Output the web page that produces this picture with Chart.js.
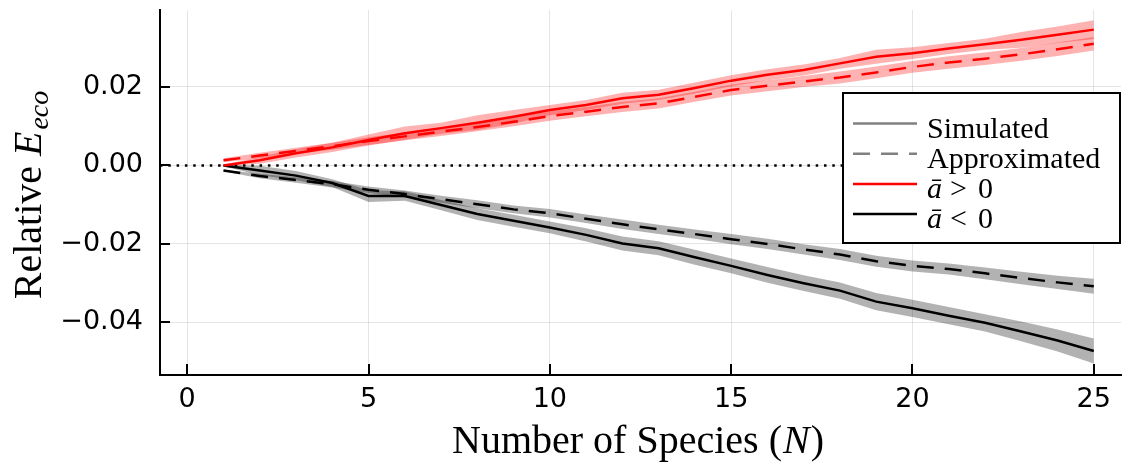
<!DOCTYPE html>
<html><head><meta charset="utf-8">
<script src="https://cdn.jsdelivr.net/npm/chart.js@4.4.1/dist/chart.umd.min.js"></script>
<style>html,body{margin:0;padding:0;background:#fff;}#wrap{width:1123px;height:471px;}</style>
</head><body><div id="wrap"><canvas id="c" width="1123" height="471"></canvas></div>
<script>
// ---- data ----
const speciesN = [1,2,3,4,5,6,7,8,9,10,11,12,13,14,15,16,17,18,19,20,21,22,23,24,25];
const posSimulated = [0.0000,0.0013,0.0031,0.0046,0.0065,0.0082,0.0095,0.0109,0.0124,0.0141,0.0154,0.0171,0.0180,0.0197,0.0216,0.0231,0.0243,0.0260,0.0277,0.0286,0.0298,0.0309,0.0320,0.0333,0.0346];
const posSimErr    = [0.0002,0.0009,0.0011,0.0012,0.0014,0.0017,0.0014,0.0019,0.0017,0.0013,0.0013,0.0014,0.0013,0.0014,0.0014,0.0014,0.0014,0.0014,0.0018,0.0015,0.0014,0.0014,0.0020,0.0021,0.0024];
const posApprox    = [0.0013,0.0025,0.0037,0.0049,0.0062,0.0074,0.0086,0.0098,0.0111,0.0126,0.0137,0.0149,0.0158,0.0175,0.0192,0.0203,0.0214,0.0224,0.0237,0.0251,0.0262,0.0272,0.0283,0.0296,0.0310];
const posApproxErr = [0.0005,0.0007,0.0008,0.0009,0.0010,0.0010,0.0011,0.0011,0.0011,0.0012,0.0012,0.0013,0.0013,0.0013,0.0014,0.0014,0.0014,0.0015,0.0015,0.0015,0.0016,0.0016,0.0016,0.0017,0.0017];
const negSimulated = [0.0000,-0.0013,-0.0026,-0.0045,-0.0078,-0.0078,-0.0101,-0.0124,-0.0141,-0.0158,-0.0177,-0.0199,-0.0211,-0.0234,-0.0256,-0.0279,-0.0300,-0.0319,-0.0347,-0.0364,-0.0383,-0.0401,-0.0423,-0.0446,-0.0473];
const negSimErr    = [0.0002,0.0012,0.0012,0.0010,0.0015,0.0012,0.0013,0.0015,0.0015,0.0015,0.0017,0.0018,0.0018,0.0019,0.0019,0.0020,0.0020,0.0021,0.0022,0.0022,0.0022,0.0022,0.0025,0.0028,0.0032];
const negApprox    = [-0.0013,-0.0027,-0.0037,-0.0048,-0.0062,-0.0073,-0.0086,-0.0099,-0.0112,-0.0122,-0.0136,-0.0150,-0.0163,-0.0175,-0.0188,-0.0200,-0.0214,-0.0227,-0.0244,-0.0256,-0.0264,-0.0275,-0.0287,-0.0298,-0.0308];
const negApproxErr = [0.0002,0.0006,0.0007,0.0008,0.0008,0.0009,0.0009,0.0010,0.0010,0.0011,0.0011,0.0012,0.0012,0.0012,0.0013,0.0013,0.0013,0.0014,0.0014,0.0014,0.0014,0.0015,0.0016,0.0017,0.0019];
const xTicks = [0,5,10,15,20,25];
const yTicks = [-0.04,-0.02,0.00,0.02];
const xLimits = [-0.75, 25.75];
const yLimits = [-0.0534, 0.0396];
const legendLabels = ['Simulated','Approximated','ā > 0','ā < 0'];
const xTitle = ['Number of Species (', 'N', ')'];
const yTitle = ['Relative ', 'E', 'eco'];

// ---- build datasets ----
const pts = arr => speciesN.map((n,i)=>({x:n, y:arr[i]}));
const ptsOff = (arr, err, s) => speciesN.map((n,i)=>({x:n, y:arr[i] + s*err[i]}));
const RED = 'rgb(255,0,0)', BLK = 'rgb(0,0,0)';
const DASH = [17,11];
function ribbon(vals, errs, fillColor){
  return [
    {data: ptsOff(vals, errs, 1), borderWidth:0, pointRadius:0, fill:'+1', backgroundColor:fillColor, borderColor:'rgba(0,0,0,0)', order:3},
    {data: ptsOff(vals, errs, -1), borderWidth:0, pointRadius:0, fill:false, borderColor:'rgba(0,0,0,0)', order:3}
  ];
}
const datasets = [
  ...ribbon(posSimulated, posSimErr, 'rgba(255,0,0,0.3)'),
  ...ribbon(posApprox, posApproxErr, 'rgba(255,0,0,0.3)'),
  ...ribbon(negSimulated, negSimErr, 'rgba(0,0,0,0.3)'),
  ...ribbon(negApprox, negApproxErr, 'rgba(0,0,0,0.3)'),
  {data:[{x:xLimits[0],y:0},{x:xLimits[1],y:0}], borderColor:BLK, borderWidth:2.5, borderDash:[2.5,5.8], pointRadius:0, fill:false, order:2},
  {data:pts(posSimulated), borderColor:RED, borderWidth:2.5, pointRadius:0, fill:false, order:1},
  {data:pts(posApprox), borderColor:RED, borderWidth:2.5, borderDash:DASH, pointRadius:0, fill:false, order:1},
  {data:pts(negSimulated), borderColor:BLK, borderWidth:2.5, pointRadius:0, fill:false, order:1},
  {data:pts(negApprox), borderColor:BLK, borderWidth:2.5, borderDash:DASH, pointRadius:0, fill:false, order:1}
];

const fmtY = v => { const r = Math.round(v*100)/100; return (r < 0 ? '\u2212' : '') + Math.abs(r).toFixed(2); };

const SERIF = '"Liberation Serif", "Times New Roman", serif';

const decor = {
  id:'decor',
  afterDraw(chart){
    const ctx = chart.ctx, a = chart.chartArea, xs = chart.scales.x, ys = chart.scales.y;
    ctx.save();
    // inward tick marks
    ctx.strokeStyle = '#000'; ctx.lineWidth = 2;
    ctx.beginPath();
    xTicks.forEach(v=>{ const p = Math.round(xs.getPixelForValue(v)); ctx.moveTo(p, a.bottom); ctx.lineTo(p, a.bottom-11); });
    yTicks.forEach(v=>{ const p = Math.round(ys.getPixelForValue(v)); ctx.moveTo(a.left, p); ctx.lineTo(a.left+10, p); });
    ctx.stroke();

    // legend
    const L = 843, T = 93, R = 1120, B = 243;
    ctx.fillStyle = '#fff'; ctx.fillRect(L, T, R-L, B-T);
    ctx.strokeStyle = '#000'; ctx.lineWidth = 2; ctx.setLineDash([]);
    ctx.strokeRect(L, T, R-L, B-T);
    const styles = [
      {c:'rgb(128,128,128)', d:[]}, {c:'rgb(128,128,128)', d:[17,11]}, {c:RED, d:[]}, {c:BLK, d:[]}
    ];
    legendLabels.forEach((lab, i)=>{
      const ly = 123.5 + 30.2*i;
      ctx.strokeStyle = styles[i].c; ctx.lineWidth = 2.5; ctx.setLineDash(styles[i].d);
      ctx.beginPath(); ctx.moveTo(853, ly); ctx.lineTo(917, ly); ctx.stroke();
      ctx.setLineDash([]);
      ctx.fillStyle = '#000'; ctx.textBaseline = 'alphabetic'; ctx.textAlign = 'left';
      const by = ly + 14;
      if (lab.charAt(0) === 'ā') {
        ctx.font = 'italic 30px ' + SERIF;
        ctx.fillText('ā', 927, by);
        let x = 927 + ctx.measureText('ā').width + 8;
        ctx.font = '30px ' + SERIF;
        const parts = lab.slice(1).trim().split(' ');
        ctx.fillText(parts[0], x, by);
        x += ctx.measureText(parts[0]).width + 11;
        ctx.fillText(parts[1], x, by);
      } else {
        ctx.font = '30px ' + SERIF;
        ctx.fillText(lab, 927, by);
      }
    });

    // x axis title
    ctx.fillStyle = '#000';
    ctx.font = '40px ' + SERIF;
    const w0 = ctx.measureText(xTitle[0]).width;
    ctx.font = 'italic 40px ' + SERIF;
    const w1 = ctx.measureText(xTitle[1]).width;
    ctx.font = '40px ' + SERIF;
    const w2 = ctx.measureText(xTitle[2]).width;
    let sx = 638 - (w0+w1+w2+2)/2, by = 453;
    ctx.fillText(xTitle[0], sx, by);
    ctx.font = 'italic 40px ' + SERIF; ctx.fillText(xTitle[1], sx+w0+1, by);
    ctx.font = '40px ' + SERIF; ctx.fillText(xTitle[2], sx+w0+w1+2, by);

    // y axis title (rotated)
    ctx.translate(41, 195);
    ctx.rotate(-Math.PI/2);
    ctx.font = '40px ' + SERIF; const v0 = ctx.measureText(yTitle[0]).width;
    ctx.font = 'italic 40px ' + SERIF; const v1 = ctx.measureText(yTitle[1]).width;
    ctx.font = 'italic 28px ' + SERIF; const v2 = ctx.measureText(yTitle[2]).width;
    let tx = -(v0+v1+v2+2)/2;
    ctx.font = '40px ' + SERIF; ctx.fillText(yTitle[0], tx, 0);
    ctx.font = 'italic 40px ' + SERIF; ctx.fillText(yTitle[1], tx+v0, 0);
    ctx.font = 'italic 28px ' + SERIF; ctx.fillText(yTitle[2], tx+v0+v1+2, 7);
    ctx.restore();
  }
};

new Chart(document.getElementById('c'), {
  type:'line',
  data:{datasets},
  plugins:[decor],
  options:{
    responsive:false, animation:false, devicePixelRatio:1,
    layout:{padding:{left:0,right:2,top:10,bottom:0}},
    plugins:{legend:{display:false}, tooltip:{enabled:false}},
    elements:{line:{tension:0}, point:{radius:0}},
    scales:{
      x:{type:'linear', min:xLimits[0], max:xLimits[1],
        afterBuildTicks:s=>{ s.ticks = xTicks.map(v=>({value:v})); },
        afterFit:s=>{ s.height = 96; s.paddingLeft = 0; s.paddingRight = 0; },
        grid:{color:'rgba(0,0,0,0.1)', lineWidth:1, drawTicks:false},
        border:{display:true, color:'#000', width:2},
        ticks:{color:'#000', font:{family:'"DejaVu Sans"', size:27}, padding:9, maxRotation:0, autoSkip:false, callback:v=>String(v)}
      },
      y:{type:'linear', min:yLimits[0], max:yLimits[1],
        afterBuildTicks:s=>{ s.ticks = yTicks.map(v=>({value:v})); },
        afterFit:s=>{ s.width = 160; s.paddingTop = 0; s.paddingBottom = 0; },
        grid:{color:'rgba(0,0,0,0.1)', lineWidth:1, drawTicks:false},
        border:{display:true, color:'#000', width:2},
        ticks:{color:'#000', font:{family:'"DejaVu Sans"', size:27}, padding:17, autoSkip:false, callback:v=>fmtY(v)}
      }
    }
  }
});
</script></body></html>
